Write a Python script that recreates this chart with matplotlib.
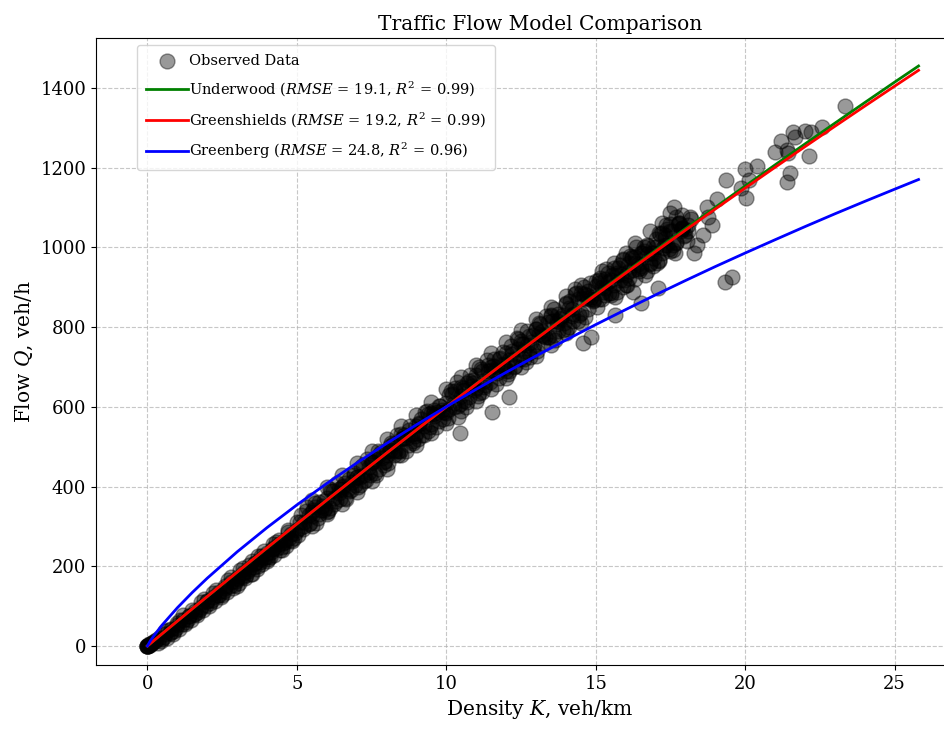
import numpy as np
import matplotlib
matplotlib.use("Agg")
import matplotlib.pyplot as plt

plt.rcParams['font.family'] = ['DejaVu Serif']
plt.rcParams['mathtext.fontset'] = 'dejavuserif'

# observed (density K veh/km, flow Q veh/h)
observed = [
    (0, 0), (0, 0), (0, 0), (0.02, 1), (0.05, 3), (0.08, 2), (0.1, 5), (0.12, 4),
    (0.15, 8), (0.2, 10), (0.25, 13), (0.3, 15), (0, 0), (0.03, 0), (0.06, 4),
    # 0.4 - 5
    (0.4, 20), (0.6, 30), (0.8, 42), (1.0, 52), (1.2, 64), (1.4, 75), (1.6, 88), (1.8, 98),
    (2.0, 112), (2.2, 122), (2.4, 136), (2.6, 146), (2.8, 160), (3.0, 170), (3.2, 184),
    (3.4, 194), (3.6, 208), (3.8, 218), (4.0, 232), (4.2, 242), (4.4, 256), (4.6, 266),
    (4.8, 282), (5.0, 290),
    (0.5, 18), (0.7, 40), (0.9, 38), (1.1, 66), (1.3, 60), (1.5, 90), (1.7, 84), (1.9, 118),
    (2.1, 108), (2.3, 140), (2.5, 128), (2.7, 165), (2.9, 152), (3.1, 190), (3.3, 178),
    (3.5, 212), (3.7, 200), (3.9, 238), (4.1, 222), (4.3, 262), (4.5, 248), (4.7, 285),
    (4.9, 270), (5.1, 312),
    (0.35, 8), (0.45, 12), (0.55, 22), (0.65, 20), (0.75, 33), (0.85, 31), (0.95, 45),
    (1.05, 43), (1.15, 55), (1.25, 54), (1.35, 68), (1.45, 66), (1.55, 80), (1.65, 78),
    (1.75, 92), (1.85, 90), (1.95, 104), (2.05, 100), (2.15, 116), (2.25, 112), (2.35, 127),
    (2.45, 122), (2.55, 139), (2.65, 135), (2.75, 151), (2.85, 146), (2.95, 163), (3.05, 158),
    (3.15, 175), (3.25, 170), (3.35, 187), (3.45, 181), (3.55, 199), (3.65, 193), (3.75, 211),
    (3.85, 205), (3.95, 223), (4.05, 217), (4.15, 235), (4.25, 229), (4.35, 247), (4.45, 240),
    (4.55, 259), (4.65, 252), (4.75, 272), (4.85, 264), (4.95, 284),
    (0.6, 38), (0.8, 35), (1.0, 58), (1.2, 78), (1.4, 75), (1.6, 79), (1.8, 110), (2.0, 113),
    (2.2, 132), (2.4, 128), (2.6, 151), (2.8, 172), (3.0, 168), (3.2, 172), (3.4, 204),
    (3.6, 207), (3.8, 225), (4.0, 222), (4.2, 245), (4.4, 265), (4.6, 262), (4.8, 266),
    (3.0, 150), (3.5, 180), (4.0, 212), (4.5, 240), (3.2, 195), (3.7, 226), (4.2, 256),
    (4.7, 290),
    # 5 - 10
    (5.25, 300), (5.5, 335), (5.75, 330), (6.0, 370), (6.25, 355), (6.5, 400), (6.75, 390),
    (7.0, 425), (7.25, 415), (7.5, 462), (7.75, 445), (8.0, 490), (8.25, 478), (8.5, 520),
    (8.75, 505), (9.0, 552), (9.25, 530), (9.5, 585), (9.75, 565), (10.0, 610),
    (5.4, 305), (5.6, 348), (5.9, 340), (6.1, 345), (6.4, 395), (6.6, 372), (6.9, 428),
    (7.1, 405), (7.4, 448), (7.6, 470), (7.9, 455), (8.1, 502), (8.4, 480), (8.6, 528),
    (8.9, 510), (9.1, 560), (9.4, 540), (9.6, 592), (9.9, 570),
    (5.05, 278), (5.15, 329), (5.25, 310), (5.35, 349), (5.45, 309), (5.55, 341), (5.65, 309),
    (5.75, 360), (5.85, 351), (5.95, 345), (6.05, 338), (6.15, 389), (6.25, 370), (6.35, 409),
    (6.45, 369), (6.55, 401), (6.65, 369), (6.75, 420), (6.85, 411), (6.95, 405), (7.05, 398),
    (7.15, 449), (7.25, 430), (7.35, 469), (7.45, 429), (7.55, 461), (7.65, 429), (7.75, 480),
    (7.85, 471), (7.95, 465), (8.05, 459), (8.15, 510), (8.25, 491), (8.35, 530), (8.45, 490),
    (8.55, 522), (8.65, 490), (8.75, 541), (8.85, 532), (8.95, 526), (9.05, 519), (9.15, 570),
    (9.25, 551), (9.35, 590), (9.45, 550), (9.55, 582), (9.65, 550), (9.75, 601), (9.85, 592),
    (9.95, 586),
    (5.0, 312), (5.2, 294), (5.4, 328), (5.6, 358), (5.8, 340), (6.0, 335), (6.2, 389),
    (6.4, 383), (6.6, 409), (6.8, 391), (7.0, 425), (7.2, 455), (7.4, 437), (7.6, 433),
    (7.8, 486), (8.0, 480), (8.2, 506), (8.4, 488), (8.6, 522), (8.8, 552), (9.0, 534),
    (9.2, 529), (9.4, 583), (9.6, 577), (9.8, 603), (10.0, 585),
    (5.1, 296), (5.3, 338), (5.5, 327), (5.7, 320), (5.9, 363), (6.1, 393), (6.3, 364),
    (6.5, 394), (6.7, 393), (6.9, 435), (7.1, 424), (7.3, 417), (7.5, 461), (7.7, 490),
    (7.9, 461), (8.1, 491), (8.3, 490), (8.5, 532), (8.7, 521), (8.9, 514), (9.1, 557),
    (9.3, 587), (9.5, 558), (9.7, 588), (9.9, 587),
    (5.5, 365), (6.0, 400), (6.5, 430), (7.0, 458), (7.5, 490), (8.0, 520), (8.5, 552),
    (9.0, 580), (9.5, 612), (5.5, 300), (6.0, 330), (6.5, 355), (7.0, 385), (7.5, 415),
    (8.0, 445), (8.5, 478), (9.0, 505), (9.5, 535),
    # 10 - 15
    (10.25, 600), (10.5, 650), (10.75, 625), (11.0, 680), (11.25, 650), (11.5, 700),
    (11.75, 672), (12.0, 735), (12.25, 700), (12.5, 765), (12.75, 735), (13.0, 795),
    (13.25, 760), (13.5, 830), (13.75, 790), (14.0, 860), (14.25, 815), (14.5, 885),
    (14.75, 845), (15.0, 915),
    (10.1, 630), (10.4, 575), (10.6, 615), (10.9, 660), (11.1, 635), (11.4, 690), (11.6, 720),
    (11.9, 705), (12.1, 690), (12.4, 745), (12.6, 720), (12.9, 780), (13.1, 810), (13.4, 775),
    (13.6, 845), (13.9, 830), (14.1, 800), (14.4, 870), (14.6, 900), (14.9, 870),
    (10.3, 640), (10.7, 660), (11.2, 690), (11.7, 700), (12.2, 740), (12.7, 755), (13.2, 790),
    (13.7, 815), (14.2, 845), (14.7, 880),
    (10.05, 571), (10.15, 639), (10.25, 609), (10.35, 661), (10.45, 606), (10.55, 646),
    (10.65, 599), (10.75, 665), (10.85, 651), (10.95, 641), (11.05, 627), (11.15, 696),
    (11.25, 665), (11.35, 717), (11.45, 662), (11.55, 702), (11.65, 656), (11.75, 721),
    (11.85, 707), (11.95, 698), (12.05, 683), (12.15, 752), (12.25, 721), (12.35, 773),
    (12.45, 719), (12.55, 758), (12.65, 712), (12.75, 778), (12.85, 763), (12.95, 754),
    (13.05, 740), (13.15, 808), (13.25, 778), (13.35, 829), (13.45, 775), (13.55, 815),
    (13.65, 768), (13.75, 834), (13.85, 820), (13.95, 810), (14.05, 796), (14.15, 865),
    (14.25, 834), (14.35, 886), (14.45, 831), (14.55, 871), (14.65, 825), (14.75, 890),
    (14.85, 876), (14.95, 867),
    (10.2, 631), (10.4, 601), (10.6, 643), (10.8, 679), (11.0, 648), (11.2, 636), (11.4, 704),
    (11.6, 690), (11.8, 722), (12.0, 691), (12.2, 733), (12.4, 769), (12.6, 739), (12.8, 726),
    (13.0, 794), (13.2, 780), (13.4, 812), (13.6, 781), (13.8, 823), (14.0, 859), (14.2, 829),
    (14.4, 816), (14.6, 884), (14.8, 871),
    (10.1, 595), (10.3, 648), (10.5, 627), (10.7, 611), (10.9, 667), (11.1, 701), (11.3, 655),
    (11.5, 692), (11.7, 685), (11.9, 738), (12.1, 717), (12.3, 702), (12.5, 757), (12.7, 791),
    (12.9, 746), (13.1, 782), (13.3, 775), (13.5, 828), (13.7, 808), (13.9, 792), (14.1, 847),
    (14.3, 882), (14.5, 836), (14.7, 872), (14.9, 865),
    (10.0, 645), (10.5, 675), (11.0, 705), (11.5, 735), (12.0, 762), (12.5, 792), (13.0, 820),
    (13.5, 850), (14.0, 878), (14.5, 905), (10.0, 560), (10.5, 590), (11.0, 615),
    (11.5, 645), (12.0, 672), (12.5, 700), (13.0, 728), (13.5, 755), (14.0, 785), (14.5, 810),
    # 15 - 18.3
    (15.2, 900), (15.4, 935), (15.6, 905), (15.8, 955), (16.0, 930), (16.2, 975), (16.4, 945),
    (16.6, 1000), (16.8, 960), (17.0, 1020), (17.2, 985), (17.4, 1045), (17.6, 1005),
    (17.8, 1060), (18.0, 1030), (18.2, 1070),
    (15.1, 870), (15.3, 920), (15.5, 885), (15.7, 930), (15.9, 900), (16.1, 960), (16.3, 920),
    (16.5, 985), (16.7, 940), (16.9, 1000), (17.1, 965), (17.3, 1030), (17.5, 990),
    (17.7, 1075), (17.9, 1045), (18.1, 1055),
    (16.3, 1010), (16.8, 1040), (17.2, 1060), (17.5, 1085), (17.9, 1080), (16.0, 985),
    (15.6, 960), (15.2, 940), (14.8, 910), (14.3, 895),
    (15.05, 850), (15.15, 923), (15.25, 889), (15.35, 946), (15.45, 885), (15.55, 930),
    (15.65, 876), (15.75, 948), (15.85, 932), (15.95, 919), (16.05, 905), (16.15, 978),
    (16.25, 944), (16.35, 1001), (16.45, 940), (16.55, 985), (16.65, 931), (16.75, 1003),
    (16.85, 987), (16.95, 974), (17.05, 960), (17.15, 1033), (17.25, 999), (17.35, 1056),
    (17.45, 995), (17.55, 1040), (17.65, 986), (17.75, 1058), (17.85, 1042), (17.95, 1029),
    (18.05, 1015), (18.15, 1075),
    (15.1, 910), (15.3, 881), (15.5, 917), (15.7, 888), (15.9, 969), (16.1, 940), (16.3, 976),
    (16.5, 947), (16.7, 983), (16.9, 954), (17.1, 1035), (17.3, 1006), (17.5, 1042),
    (17.7, 1013), (17.9, 1049), (18.1, 1040),
    (15.0, 902), (15.2, 871), (15.4, 913), (15.6, 949), (15.8, 918), (16.0, 905), (16.2, 973),
    (16.4, 959), (16.6, 990), (16.8, 959), (17.0, 1001), (17.2, 1037), (17.4, 1006),
    (17.6, 993), (17.8, 1061), (18.0, 1047),
    (15.1, 918), (15.3, 897), (15.5, 881), (15.7, 936), (15.9, 970), (16.1, 924), (16.3, 960),
    (16.5, 953), (16.7, 1006), (16.9, 985), (17.1, 969), (17.3, 1024), (17.5, 1058),
    (17.7, 1012), (17.9, 1048),
    # scattered points
    (14.57, 759), (14.85, 776), (11.54, 588), (10.47, 534), (12.1, 625), (16.53, 860),
    (17.07, 897), (15.64, 830), (16.25, 888), (18.3, 985), (18.4, 1005), (18.6, 1030),
    (18.9, 1056), (18.77, 1077), (18.72, 1100), (17.63, 1100), (19.04, 1121),
    (19.35, 1169), (19.86, 1148), (20.04, 1123), (20.0, 1196), (20.13, 1169), (20.38, 1204),
    (21.0, 1238), (21.2, 1268), (21.39, 1244), (21.43, 1236), (21.41, 1165), (21.49, 1186),
    (21.6, 1290), (21.66, 1278), (21.99, 1293), (22.2, 1290), (22.14, 1230), (22.58, 1303),
    (23.35, 1355), (19.34, 912), (19.56, 926),
]

# fitted model curves
k_fit = [0, 0.1, 0.25, 0.5, 1, 1.5, 2, 3, 4, 5, 6, 7, 8, 9, 10, 11, 12, 13, 14, 15,
         16, 17, 18, 19, 20, 21, 22, 23, 24, 25, 25.8]
q_underwood = [0, 6.2, 15.6, 31.2, 62.2, 93.1, 123.8, 185.0, 245.7, 305.9, 365.7, 425.0,
               483.8, 542.1, 600.0, 657.4, 714.4, 770.9, 827.0, 882.6, 937.7, 992.4,
               1046.7, 1100.5, 1153.9, 1206.9, 1259.4, 1311.5, 1363.2, 1414.5, 1455.0]
q_greenshields = [0, 6.2, 15.6, 31.2, 62.2, 93.2, 124.0, 185.2, 246.0, 306.2, 365.9, 425.1,
                  483.8, 542.0, 599.7, 656.9, 713.6, 769.7, 825.4, 880.6, 935.2, 989.4,
                  1043.0, 1096.2, 1148.8, 1200.9, 1252.6, 1303.7, 1354.3, 1404.4, 1444.2]
q_greenberg = [0, 13.1, 29.3, 53.2, 95.7, 134.1, 169.9, 236.0, 296.8, 353.8, 407.6, 458.8,
               507.9, 554.9, 600.2, 644.0, 686.4, 727.5, 767.4, 806.2, 843.8, 880.8, 916.7,
               951.8, 985.8, 1019.1, 1052.0, 1084.1, 1115.3, 1145.9, 1170.2]

labels = [r'Underwood ($\it{RMSE}$ = 19.1, $R^2$ = 0.99)',
          r'Greenshields ($\it{RMSE}$ = 19.2, $R^2$ = 0.99)',
          r'Greenberg ($\it{RMSE}$ = 24.8, $R^2$ = 0.96)']

obs = np.array(observed)

fig = plt.figure(figsize=(9.45, 7.41), dpi=100)
ax = fig.add_axes([0.1016, 0.1026, 0.94, 0.846])

ax.scatter(obs[:, 0], obs[:, 1], s=115, c='black', alpha=0.4, edgecolors='black',
           linewidths=1, label='Observed Data', zorder=2)
ax.plot(k_fit, q_underwood, color='green', lw=2, label=labels[0], zorder=3)
ax.plot(k_fit, q_greenshields, color='red', lw=2, label=labels[1], zorder=3)
ax.plot(k_fit, q_greenberg, color='blue', lw=2, label=labels[2], zorder=3)

ax.set_xlim(-1.72, 28.0)
ax.set_ylim(-47.7, 1525)
ax.set_xticks([0, 5, 10, 15, 20, 25])
ax.set_yticks([0, 200, 400, 600, 800, 1000, 1200, 1400])
ax.tick_params(labelsize=13)
ax.grid(True, linestyle='--', alpha=0.7)

ax.set_title('Traffic Flow Model Comparison', fontsize=14.5, pad=6)
ax.set_xlabel(r'Density $K$, veh/km', fontsize=14.5)
ax.set_ylabel(r'Flow $Q$, veh/h', fontsize=14.5)
ax.legend(loc='upper left', bbox_to_anchor=(0.046, 0.989), borderaxespad=0,
          fontsize=10.5, handlelength=2.9, handletextpad=0.1, labelspacing=0.8,
          borderpad=0.6)

plt.savefig('out.png', dpi=100)
